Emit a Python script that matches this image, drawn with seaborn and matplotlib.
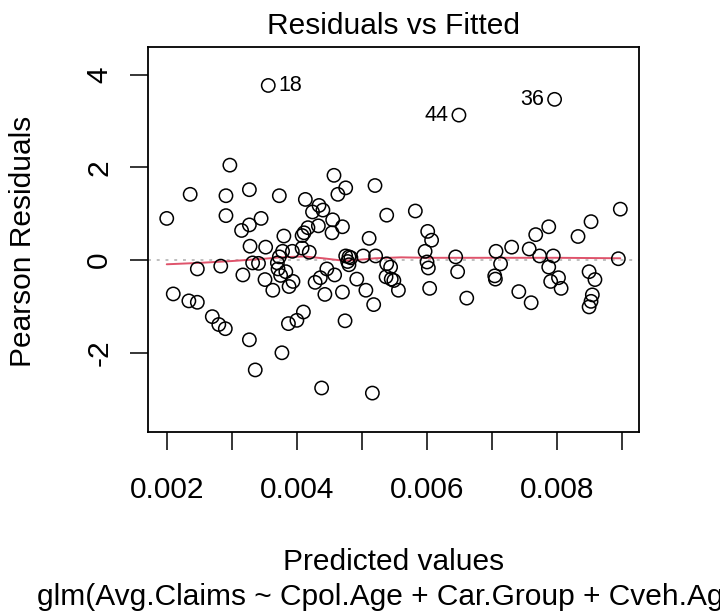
import matplotlib
matplotlib.use("Agg")
import matplotlib.pyplot as plt
import seaborn as sns
import pandas as pd

# ---- data ----
fitted = [0.00200, 0.00210, 0.00236, 0.00234, 0.00247, 0.00247, 0.00270, 0.00283, 0.00280, 0.00290,
          0.00297, 0.00291, 0.00291, 0.00317, 0.00315, 0.00327, 0.00327, 0.00328, 0.00327, 0.00336,
          0.00332, 0.00341, 0.00345, 0.00351, 0.00352, 0.00356, 0.00363, 0.00373, 0.00370, 0.00371,
          0.00373, 0.00375, 0.00377, 0.00380, 0.00378, 0.00383, 0.00388, 0.00387, 0.00393, 0.00394,
          0.00400, 0.00410, 0.00408, 0.00408, 0.00411, 0.00413, 0.00417, 0.00419, 0.00424, 0.00428,
          0.00434, 0.00433, 0.00436, 0.00438, 0.00440, 0.00443, 0.00446, 0.00454, 0.00455, 0.00458,
          0.00457, 0.00463, 0.00470, 0.00470, 0.00474, 0.00475, 0.00475, 0.00478, 0.00480, 0.00480,
          0.00483, 0.00492, 0.00502, 0.00506, 0.00511, 0.00516, 0.00518, 0.00520, 0.00521, 0.00538,
          0.00538, 0.00537, 0.00544, 0.00545, 0.00549, 0.00556, 0.00582, 0.00597, 0.00601, 0.00607,
          0.00600, 0.00602, 0.00604, 0.00644, 0.00647, 0.00649, 0.00661, 0.00706, 0.00713, 0.00704,
          0.00705, 0.00730, 0.00741, 0.00757, 0.00760, 0.00767, 0.00773, 0.00787, 0.00787, 0.00790,
          0.00794, 0.00796, 0.00802, 0.00806, 0.00832, 0.00849, 0.00852, 0.00858, 0.00854, 0.00852,
          0.00849, 0.00897, 0.00894]
residuals = [0.90, -0.73, 1.42, -0.88, -0.19, -0.91, -1.22, -0.13, -1.39, -1.48,
             2.05, 1.39, 0.96, -0.32, 0.64, 1.52, 0.76, 0.30, -1.72, -2.37,
             -0.06, -0.07, 0.90, -0.42, 0.28, 3.77, -0.65, 1.39, -0.06, -0.19,
             0.07, -0.33, -2.00, 0.52, 0.19, -0.25, -0.57, -1.37, 0.19, -0.46,
             -1.30, -1.12, 0.26, 0.53, 0.59, 1.31, 0.70, 0.17, 1.04, -0.48,
             1.18, 0.74, -0.38, -2.76, 1.08, -0.74, -0.19, 0.59, 0.87, -0.32,
             1.83, 1.42, 0.72, -0.69, -1.31, 1.56, 0.09, -0.03, 0.07, -0.10,
             0.05, -0.41, 0.09, -0.65, 0.47, -2.87, -0.96, 1.61, 0.09, 0.97,
             -0.08, -0.36, -0.15, -0.41, -0.44, -0.65, 1.06, 0.19, 0.62, 0.43,
             -0.04, -0.17, -0.61, 0.07, -0.25, 3.13, -0.82, 0.19, -0.08, -0.34,
             -0.41, 0.28, -0.68, 0.24, -0.92, 0.55, 0.09, 0.72, -0.15, -0.46,
             0.09, 3.47, -0.38, -0.61, 0.51, -0.25, 0.83, -0.42, -0.75, -0.89,
             -1.01, 1.10, 0.03]

# labelled observations: (label, index into the arrays above, side)
outlier_labels = ["18", "44", "36"]
outlier_index = [25, 95, 111]
outlier_side = ["right", "left", "left"]

smooth_x = [0.00200, 0.00250, 0.00300, 0.00350, 0.00375, 0.00410, 0.00440, 0.00470,
            0.00490, 0.00520, 0.00560, 0.00600, 0.00700, 0.00800, 0.00897]
smooth_y = [-0.09, -0.06, -0.02, 0.03, 0.06, 0.08, 0.04, -0.01,
            0.00, 0.04, 0.06, 0.05, 0.05, 0.05, 0.04]

x_ticks = [0.002, 0.003, 0.004, 0.005, 0.006, 0.007, 0.008, 0.009]
x_ticklabels = ["0.002", "", "0.004", "", "0.006", "", "0.008", ""]
y_ticks = [-2, 0, 2, 4]
y_ticklabels = ["-2", "0", "2", "4"]

title = "Residuals vs Fitted"
xlabel = "Predicted values"
ylabel = "Pearson Residuals"
subtitle = "glm(Avg.Claims ~ Cpol.Age + Car.Group + Cveh.Age)"

# ---- plotting ----
sns.set_style("white")
plt.rcParams["font.family"] = ["Liberation Sans", "DejaVu Sans"]
plt.rcParams["text.color"] = "black"
plt.rcParams["axes.labelcolor"] = "black"
plt.rcParams["xtick.color"] = "black"
plt.rcParams["ytick.color"] = "black"

W, H = 720, 612
FS = 21.5
fig = plt.figure(figsize=(W / 100, H / 100), dpi=100)
L, R_, T, B = 148, 639, 47, 432
ax = fig.add_axes([L / W, 1 - B / H, (R_ - L) / W, (B - T) / H])

df = pd.DataFrame({"fitted": fitted, "resid": residuals})
sm = pd.DataFrame({"x": smooth_x, "y": smooth_y})

ax.axhline(0, color="#BEBEBE", lw=1.4, ls=(0, (1.5, 3)), zorder=1)
sns.scatterplot(data=df, x="fitted", y="resid", ax=ax, marker="o", s=92,
                facecolors="none", edgecolor="black", linewidth=1.1, zorder=3)
sns.lineplot(data=sm, x="x", y="y", ax=ax, color="#DF536B", lw=1.4,
             estimator=None, sort=False, zorder=2)

for lab, idx, side in zip(outlier_labels, outlier_index, outlier_side):
    xv, yv = fitted[idx], residuals[idx]
    off = 7.5 if side == "right" else -7.5
    ax.annotate(lab, (xv, yv), xytext=(off, 0), textcoords="offset points",
                ha="left" if side == "right" else "right", va="center",
                fontsize=15.5, color="black")

ax.set_xlim(0.001712, 0.009257)
ax.set_ylim(-3.71, 4.60)
ax.set_xticks(x_ticks)
ax.set_xticklabels(x_ticklabels)
ax.set_yticks(y_ticks)
ax.set_yticklabels(y_ticklabels, rotation=90, va="center")
ax.set_xlabel("")
ax.set_ylabel("")

for sp in ax.spines.values():
    sp.set_visible(True)
    sp.set_color("black")
    sp.set_linewidth(1.3)

ax.tick_params(axis="both", which="both", direction="out", length=13, width=1.1,
               color="black", labelsize=FS, labelcolor="black",
               bottom=True, left=True, top=False, right=False)
ax.tick_params(axis="x", pad=19)
ax.tick_params(axis="y", pad=12)

fig.text((L + R_) / 2 / W, 1 - 34 / H, title, ha="center", va="baseline", fontsize=FS)
fig.text((L + R_) / 2 / W, 1 - 570 / H, xlabel, ha="center", va="baseline", fontsize=FS)
fig.text((L + R_) / 2 / W, 1 - 605 / H, subtitle, ha="center", va="baseline", fontsize=FS)
fig.text(23 / W, 1 - 241 / H, ylabel, ha="center", va="center", rotation=90, fontsize=FS)

fig.savefig("out.png", dpi=100)
